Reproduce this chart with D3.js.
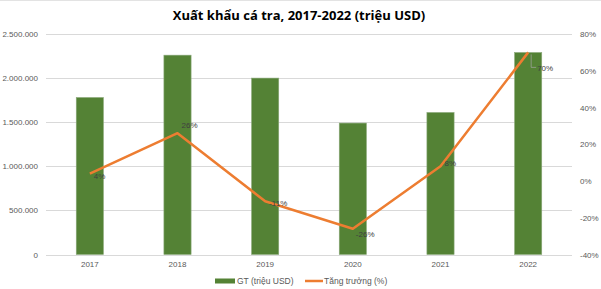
<!DOCTYPE html>
<html>
<head>
<meta charset="utf-8">
<script src="https://cdn.jsdelivr.net/npm/d3@7"></script>
<style>
  body { margin: 0; background: #fff; }
  svg { display: block; }
  .tick text { font-family: "Liberation Sans", Arial, sans-serif; font-size: 8px; fill: #595959; }
</style>
</head>
<body>
<script>
// dữ liệu
const years = ['2017', '2018', '2019', '2020', '2021', '2022'];
const values = [1780000, 2260000, 2000000, 1490000, 1610000, 2290000];
const growth = [4, 26, -11, -26, 8, 70];
const leftTicks = [0, 500000, 1000000, 1500000, 2000000, 2500000];
const rightTicks = [-40, -20, 0, 20, 40, 60, 80];

const width = 601, height = 289;
const margin = { top: 34, right: 29, bottom: 34.5, left: 46 };

const svg = d3.select('body').append('svg')
    .attr('width', width)
    .attr('height', height);

svg.append('line')
    .attr('x1', 0).attr('x2', width).attr('y1', 0.5).attr('y2', 0.5)
    .attr('stroke', '#e3e3e3');

const x = d3.scaleBand()
    .domain(years)
    .range([margin.left, width - margin.right])
    .paddingInner(0.69)
    .paddingOuter(0.345);

const y = d3.scaleLinear()
    .domain([0, 2500000])
    .range([height - margin.bottom, margin.top]);

const y2 = d3.scaleLinear()
    .domain([-40, 80])
    .range([height - margin.bottom, margin.top]);

const fmt = v => d3.format(',')(v).replace(/,/g, '.');

// lưới ngang
svg.append('g')
    .selectAll('line')
    .data(leftTicks)
    .join('line')
    .attr('x1', margin.left).attr('x2', width - margin.right)
    .attr('y1', d => Math.round(y(d)) + 0.5).attr('y2', d => Math.round(y(d)) + 0.5)
    .attr('stroke', '#d9d9d9');

const yAxis = svg.append('g')
    .attr('transform', `translate(${margin.left - 8},0)`)
    .call(d3.axisLeft(y).tickValues(leftTicks).tickFormat(fmt).tickSize(0).tickPadding(0));
yAxis.select('.domain').remove();

const y2Axis = svg.append('g')
    .attr('transform', `translate(${width - margin.right + 8},0)`)
    .call(d3.axisRight(y2).tickValues(rightTicks).tickFormat(d => d + '%').tickSize(0).tickPadding(0));
y2Axis.select('.domain').remove();

const xAxis = svg.append('g')
    .attr('transform', `translate(0,${height - margin.bottom + 5})`)
    .call(d3.axisBottom(x).tickSize(0).tickPadding(2));
xAxis.select('.domain').remove();

// cột
svg.append('g')
    .selectAll('rect')
    .data(years)
    .join('rect')
    .attr('x', d => x(d))
    .attr('y', (d, i) => y(values[i]))
    .attr('width', x.bandwidth())
    .attr('height', (d, i) => y(0) - y(values[i]))
    .attr('fill', '#548235')
    .attr('stroke', '#8aa87a')
    .attr('stroke-width', 0.6);

// đường tăng trưởng
const cx = d => x(d) + x.bandwidth() / 2;
const line = d3.line()
    .x(d => cx(d))
    .y((d, i) => y2(growth[i]));

svg.append('path')
    .datum(years)
    .attr('d', line)
    .attr('fill', 'none')
    .attr('stroke', '#ed7d31')
    .attr('stroke-width', 2.5)
    .attr('stroke-linejoin', 'round');

// nhãn dữ liệu
const labelOffset = [[4, 3], [4, -8], [4, 2], [3, 5], [4, -3], [9, 16]];
svg.append('g')
    .selectAll('text')
    .data(years)
    .join('text')
    .attr('x', (d, i) => cx(d) + labelOffset[i][0])
    .attr('y', (d, i) => y2(growth[i]) + labelOffset[i][1])
    .attr('dy', '0.35em')
    .attr('font-family', '"Liberation Sans", Arial, sans-serif')
    .attr('font-size', 8)
    .attr('fill', '#404040')
    .text((d, i) => growth[i] + '%');

// đường dẫn cho nhãn 70%
const last = years.length - 1;
const lx = cx(years[last]), ly = y2(growth[last]);
svg.append('path')
    .attr('d', `M${lx + 3},${ly + 2}V${ly + 15}H${lx + 8}`)
    .attr('fill', 'none')
    .attr('stroke', '#a6a6a6')
    .attr('stroke-width', 0.7);

// tiêu đề
svg.append('text')
    .attr('x', 299)
    .attr('y', 20)
    .attr('text-anchor', 'middle')
    .attr('font-family', '"Open Sans", sans-serif')
    .attr('font-weight', 'bold')
    .attr('font-size', 13)
    .attr('fill', '#000')
    .text('Xuất khẩu cá tra, 2017-2022 (triệu USD)');

// chú giải
const legend = svg.append('g')
    .attr('font-family', '"Liberation Sans", Arial, sans-serif')
    .attr('font-size', 8.5)
    .attr('fill', '#595959');
legend.append('rect')
    .attr('x', 215).attr('y', 278.5).attr('width', 20).attr('height', 5)
    .attr('fill', '#548235');
legend.append('text')
    .attr('x', 237).attr('y', 281).attr('dy', '0.35em')
    .text('GT (triệu USD)');
legend.append('line')
    .attr('x1', 305).attr('x2', 323).attr('y1', 281).attr('y2', 281)
    .attr('stroke', '#ed7d31').attr('stroke-width', 2.5);
legend.append('text')
    .attr('x', 324).attr('y', 281).attr('dy', '0.35em')
    .text('Tăng trưởng (%)');
</script>
</body>
</html>
